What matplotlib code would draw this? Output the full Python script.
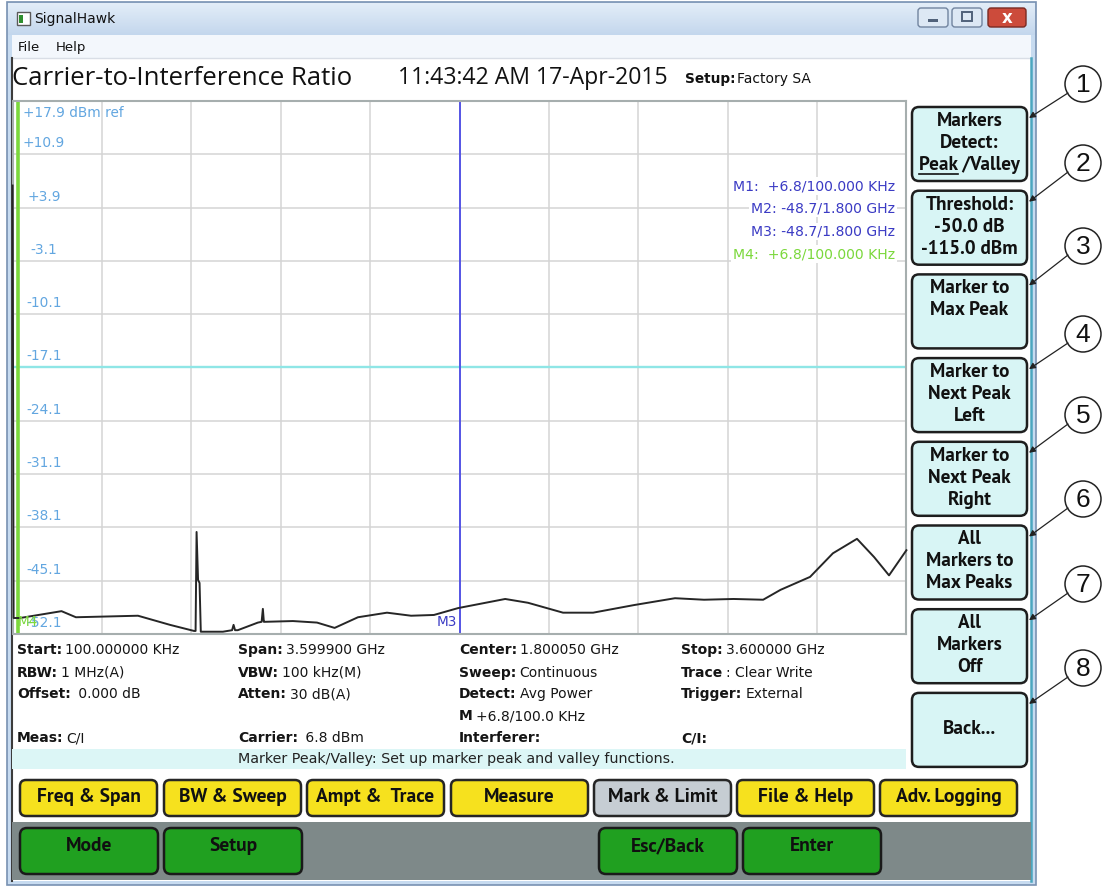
import matplotlib

matplotlib.use("Agg")
import matplotlib.pyplot as plt
import numpy as np
from matplotlib.colors import LinearSegmentedColormap
from matplotlib.patches import Circle, FancyBboxPatch, Rectangle
from matplotlib.transforms import blended_transform_factory, offset_copy

W, H, DPI = 1106, 886, 100

# ---------------------------------------------------------------- data
# trace: frequency (GHz) / level (dBm)
freq_ghz = [0.0001, 0.004, 0.030, 0.197, 0.255, 0.505, 0.634, 0.731, 0.737, 0.741,
            0.747, 0.753, 0.758, 0.765, 0.847, 0.884, 0.890, 0.896, 0.907, 0.988,
            1.003, 1.008, 1.012, 1.016, 1.129, 1.226, 1.297, 1.391, 1.508, 1.605,
            1.697, 1.794, 1.984, 2.076, 2.217, 2.338, 2.503, 2.668, 2.785, 2.904,
            3.023, 3.093, 3.212, 3.304, 3.401, 3.470, 3.530, 3.600]
level_dbm = [6.8, -50.0, -50.0, -49.1, -49.9, -49.7, -50.9, -51.7, -51.7, -38.7,
             -45.0, -45.4, -51.8, -51.8, -51.8, -51.6, -50.9, -51.6, -51.6, -50.6,
             -50.5, -48.8, -50.5, -50.5, -50.4, -50.6, -51.3, -49.9, -49.3, -49.7,
             -49.6, -48.7, -47.5, -48.0, -49.3, -49.3, -48.3, -47.4, -47.6, -47.5,
             -47.6, -46.3, -44.6, -41.5, -39.6, -42.0, -44.4, -41.1]

grid_dbm = [17.9, 10.9, 3.9, -3.1, -10.1, -17.1, -24.1, -31.1, -38.1, -45.1, -52.1]
grid_ghz = [0.0, 0.36, 0.72, 1.08, 1.44, 1.80, 2.16, 2.52, 2.88, 3.24, 3.60]
limit_dbm = -17.1

marker_names = ["M1", "M2", "M3", "M4"]
marker_ghz = [0.0001, 1.8, 1.8, 0.0001]
marker_readout = ["M1:  +6.8/100.000 KHz", "M2: -48.7/1.800 GHz",
                  "M3: -48.7/1.800 GHz", "M4:  +6.8/100.000 KHz"]
marker_colors = ["#3b3bc4", "#3b3bc4", "#3b3bc4", "#7bd83c"]

info_cells = [
    [("Start:", "100.000000 KHz"), ("Span:", "3.599900 GHz"), ("Center:", "1.800050 GHz"), ("Stop:", "3.600000 GHz")],
    [("RBW:", "1 MHz(A)"), ("VBW:", "100 kHz(M)"), ("Sweep:", "Continuous"), ("Trace", ": Clear Write")],
    [("Offset:", " 0.000 dB"), ("Atten:", "30 dB(A)"), ("Detect:", "Avg Power"), ("Trigger:", "External")],
    [None, None, ("M", "+6.8/100.0 KHz"), None],
    [("Meas:", "C/I"), ("Carrier:", " 6.8 dBm"), ("Interferer:", ""), ("C/I:", "")],
]
status_msg = "Marker Peak/Valley: Set up marker peak and valley functions."

side_buttons = [["Markers", "Detect:", "Peak /Valley"], ["Threshold:", "-50.0 dB", "-115.0 dBm"],
                ["Marker to", "Max Peak", ""], ["Marker to", "Next Peak", "Left"],
                ["Marker to", "Next Peak", "Right"], ["All", "Markers to", "Max Peaks"],
                ["All", "Markers", "Off"], ["", "Back...", ""]]
menu_buttons = ["Freq & Span", "BW & Sweep", "Ampt &  Trace", "Measure", "Mark & Limit",
                "File & Help", "Adv. Logging"]
menu_active = "Mark & Limit"
key_buttons = ["Mode", "Setup", "", "", "Esc/Back", "Enter"]

# ---------------------------------------------------------------- layout (pixels)
PLOT_L, PLOT_R, PLOT_T, PLOT_B = 12.6, 906.4, 101, 634
INFO = "DejaVu Sans"
BTN = "PT Sans"
TITLE = "Open Sans"

fig = plt.figure(figsize=(W / DPI, H / DPI), dpi=DPI)
fig.patch.set_facecolor("white")
renderer = fig.canvas.get_renderer()


def pixel_axes(z):
    a = fig.add_axes([0, 0, 1, 1], zorder=z)
    a.set_xlim(0, W); a.set_ylim(H, 0); a.axis("off")
    a.patch.set_alpha(0)
    return a


bg = pixel_axes(0)
ovl = pixel_axes(3)


def txt(x, y, s, size, width=None, axes=None, **kw):
    a = axes or ovl
    t = a.text(x, y, s, fontsize=size, **kw)
    if width:
        w = t.get_window_extent(renderer).width
        t.set_fontsize(size * width / w)
    return t


def box(a, x, y, w, h, fc, ec, lw=1.8, r=6, z=1):
    a.add_patch(FancyBboxPatch((x, y), w, h, boxstyle=f"round,pad=0,rounding_size={r}",
                               fc=fc, ec=ec, lw=lw, zorder=z))


# ---------------------------------------------------------------- window chrome
bg.add_patch(Rectangle((7, 2), 1029, 883, fc="#c7dbf0", ec="#7891b2", lw=1.2, zorder=0))
grad = LinearSegmentedColormap.from_list("tb", ["#e3edf8", "#c3d7ed"])
bg.imshow(np.linspace(0, 1, 40)[:, None], extent=[8, 1035, 35, 3], cmap=grad,
          aspect="auto", zorder=0.5)
bg.set_xlim(0, W); bg.set_ylim(H, 0)
bg.add_patch(Rectangle((12, 35), 1019, 23, fc="#f3f7fc", ec="none", zorder=1))
bg.add_patch(Rectangle((12, 58), 1019, 823, fc="white", ec="none", zorder=1))
bg.plot([12, 1031], [58, 58], color="#d9dee6", lw=1, zorder=2)
bg.plot([1031, 1031], [58, 881], color="#4aa6bf", lw=1.8, zorder=2)
bg.plot([12, 12], [58, 881], color="#3c3c3c", lw=1.5, zorder=2)

# title bar icon + caption
bg.add_patch(Rectangle((17, 12), 13, 13, fc="white", ec="#5a5a5a", lw=1, zorder=2))
bg.add_patch(Rectangle((19, 15), 4, 8, fc="#2f8f2f", ec="none", zorder=3))
txt(34, 19, "SignalHawk", 10, family=INFO, va="center", color="#111")
txt(18, 47, "File", 9.5, family=INFO, va="center", color="#111")
txt(56, 47, "Help", 9.5, family=INFO, va="center", color="#111")

# caption buttons
box(bg, 918, 8, 30, 19, "#dde8f4", "#71849f", lw=1, r=3, z=2)
bg.add_patch(Rectangle((928, 19), 10, 3, fc="#51627a", ec="none", zorder=3))
box(bg, 952, 8, 30, 19, "#dde8f4", "#71849f", lw=1, r=3, z=2)
bg.add_patch(Rectangle((962, 12), 10, 9, fc="none", ec="#51627a", lw=1.4, zorder=3))
box(bg, 988, 8, 38, 19, "#cc4b3b", "#7a2a22", lw=1, r=3, z=2)
txt(1007, 17.5, "x", 12, family=INFO, weight="bold", ha="center", va="center", color="white")

# header line
txt(12, 78, "Carrier-to-Interference Ratio", 18, width=341, family=TITLE, va="center", color="#111")
txt(398, 78, "11:43:42 AM 17-Apr-2015", 18, width=270, family=TITLE, va="center", color="#111")
txt(685, 79, "Setup:", 9.8, family=INFO, weight="bold", va="center", color="#111")
txt(737, 79, "Factory SA", 10, family=INFO, va="center", color="#111")

# ---------------------------------------------------------------- spectrum plot
ax = fig.add_axes([PLOT_L / W, 1 - PLOT_B / H, (PLOT_R - PLOT_L) / W, (PLOT_B - PLOT_T) / H],
                  zorder=2)
ax.set_facecolor("white")
ax.set_xlim(grid_ghz[0], grid_ghz[-1])
ax.set_ylim(grid_dbm[-1], grid_dbm[0])
ax.set_xticks(grid_ghz)
ax.set_yticks(grid_dbm)
ax.tick_params(length=0, labelbottom=False, labelleft=False)
ax.grid(color="#d4d4d4", lw=1.1)
for s in ax.spines.values():
    s.set_color("#a6aeae"); s.set_linewidth(1.5)
ax.axhline(limit_dbm, color="#8fe6e6", lw=1.7, zorder=1.8)

# marker lines (M3 centre, M4 at start; screen draws M4 a few px in)
ax.axvline(marker_ghz[2], color="#4a4ae6", lw=1.3, zorder=2)
ax.plot([marker_ghz[3], marker_ghz[3]], [0, 1], color="#7bd83c", lw=2.6, zorder=2,
        transform=offset_copy(ax.get_xaxis_transform(), fig=fig, x=5, units="dots"))
ax.plot(freq_ghz, level_dbm, color="#262626", lw=1.4, zorder=3, clip_on=False)

lab_tr = blended_transform_factory(ax.transAxes, ax.transData)
for v in grid_dbm[1:]:
    ax.text(0.035, v, f"{v:+.1f}", fontsize=9.9, family=INFO, color="#62a6e0", ha="center",
            va="center", transform=offset_copy(lab_tr, fig=fig, y=11, units="dots"))
ax.text(0.0116, grid_dbm[0], f"{grid_dbm[0]:+.1f} dBm ref", fontsize=9.8, family=INFO,
        color="#62a6e0", ha="left", va="center",
        transform=offset_copy(lab_tr, fig=fig, y=-12, units="dots"))
ax.text(marker_ghz[2], grid_dbm[-1], marker_names[2], fontsize=9.8, family=INFO, color="#3b3bc4",
        ha="right", va="center", zorder=4,
        transform=offset_copy(ax.transData, fig=fig, x=-2, y=12, units="dots"))
ax.text(marker_ghz[3], grid_dbm[-1], marker_names[3], fontsize=9.8, family=INFO, color="#7bd83c",
        ha="left", va="center", zorder=4,
        transform=offset_copy(ax.transData, fig=fig, x=5, y=12, units="dots"))

# marker readout block
for i, (s, c) in enumerate(zip(marker_readout, marker_colors)):
    txt(895, 186 + 22.7 * i, s, 10.1, family=INFO, color=c, ha="right", va="center",
        bbox=dict(fc="white", ec="none", pad=1.2))

# ---------------------------------------------------------------- info panel
bg.add_patch(Rectangle((12, 749), 894, 20, fc="#dcf6f6", ec="none", zorder=2))
col_x = [17, 238, 459, 681]
row_y = [650, 673, 694, 716, 738]
for r, row in enumerate(info_cells):
    for c, cell in enumerate(row):
        if cell is None:
            continue
        lab, val = cell
        t = txt(col_x[c], row_y[r], lab, 10, family=INFO, weight="bold", va="center", color="#151515")
        wlab = t.get_window_extent(renderer).width
        if val:
            txt(col_x[c] + wlab + 3, row_y[r], val, 10, family=INFO, va="center", color="#151515")
txt(238, 759, status_msg, 10.3, family=INFO, va="center", color="#222")

# ---------------------------------------------------------------- right soft keys
for i, lines in enumerate(side_buttons):
    top = 107 + 83.7 * i
    box(bg, 912, top, 115, 74, "#d8f5f5", "#1e1e1e", lw=1.8, r=7, z=2)
    for j, s in enumerate(lines):
        if not s:
            continue
        t = txt(969.5, top + 14 + 22 * j, s, 13.8, family=BTN, weight="bold", ha="center",
                va="center", color="#111")
        if s.startswith("Peak"):
            bb = t.get_window_extent(renderer)
            probe = txt(0, 0, "Peak", t.get_fontsize(), family=BTN, weight="bold")
            wp = probe.get_window_extent(renderer).width
            probe.remove()
            uy = top + 14 + 22 * j + 9
            ovl.plot([bb.x0, bb.x0 + wp], [uy, uy], color="#111", lw=1.2)

    # numbered callouts
    cy = [84, 163, 246, 334, 415, 499, 584, 668][i]
    ovl.add_patch(Circle((1083, cy), 18, fc="white", ec="#222", lw=1.1))
    txt(1083, cy + 1, str(i + 1), 19, family="Liberation Sans", ha="center", va="center", color="#111")
    ovl.annotate("", xy=(1029, top + 11), xytext=(1068, cy + 9),
                 arrowprops=dict(arrowstyle="-|>", color="#222", lw=0.9, mutation_scale=9,
                                 shrinkA=0, shrinkB=0))

# ---------------------------------------------------------------- bottom keys
menu_x = [20, 164, 307, 451, 594, 737, 880]
for x0, s in zip(menu_x, menu_buttons):
    fc = "#c6cdd3" if s == menu_active else "#f6e11e"
    box(bg, x0, 780, 137, 36, fc, "#262626", lw=1.8, r=6, z=2)
    txt(x0 + 68.5, 797, s, 14, family=BTN, weight="bold", ha="center", va="center", color="#111")

bg.add_patch(Rectangle((12, 822), 1019, 58, fc="#7e8989", ec="none", zorder=2))
key_x = [20, 164, 307, 451, 599, 743]
for x0, s in zip(key_x, key_buttons):
    if not s:
        continue
    box(bg, x0, 828, 138, 46, "#20a020", "#1a1a1a", lw=1.8, r=7, z=3)
    txt(x0 + 69, 846, s, 14, family=BTN, weight="bold", ha="center", va="center", color="#101010")

fig.savefig("out.png", dpi=DPI)
